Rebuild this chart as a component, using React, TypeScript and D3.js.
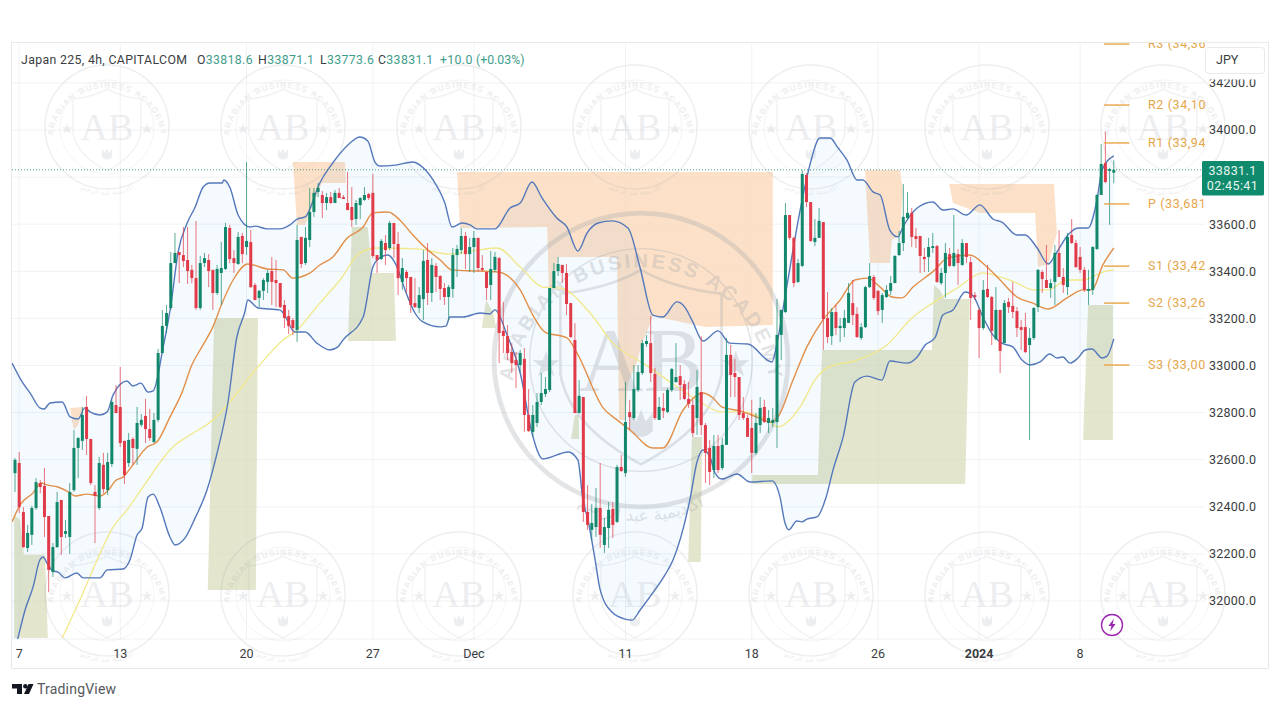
import React from "react";
import * as d3 from "d3";

const opens = [32543,32586,32378,32225,32281,32395,32501,32488,32361,32123,32229,32429,32285,32272,32471,32650,32680,32824,32688,32463,32395,32578,32471,32582,32832,32824,32680,32586,32688,32646,32748,32786,32730,32675,32769,33053,33168,33244,33435,33482,33469,33448,33406,33371,33244,33435,33448,33406,33308,33393,33410,33584,33456,33431,33550,33503,33524,33342,33287,33317,33355,33401,33363,33350,33257,33210,33193,33151,33546,33435,33533,33652,33737,33724,33690,33715,33690,33733,33715,33690,33673,33622,33681,33703,33728,33733,33469,33452,33520,33499,33605,33516,33355,33397,33376,33265,33244,33282,33448,33308,33423,33380,33329,33291,33325,33469,33490,33550,33473,33503,33542,33414,33397,33342,33406,33456,33147,33125,33057,33023,33002,33028,32790,32718,32756,32845,32879,32896,33329,33401,33427,33393,33265,33108,32798,32866,32378,32302,32314,32395,32238,32310,32391,32336,32569,32543,32802,32777,32896,32968,33091,33095,32964,32769,32820,32803,32896,32930,32955,32921,32858,32832,32777,32887,32747,32650,32556,32658,32565,32663,33045,32968,32951,32798,32777,32735,32629,32747,32824,32756,32756,32760,33130,33227,33639,33542,33355,33423,33809,33694,33524,33542,33609,33202,33125,33227,33159,33159,33181,33265,33219,33117,33163,33333,33376,33317,33236,33291,33317,33350,33469,33520,33626,33648,33550,33550,33461,33461,33499,33507,33350,33393,33473,33423,33473,33427,33520,33439,33299,33236,33159,33325,33291,33112,33236,33095,33270,33253,33231,33163,33163,33087,33117,33248,33397,33363,33329,33355,33478,33376,33333,33554,33520,33461,33406,33317,33321,33495,33724,33860,33826,33818.6];
const highs = [32607,32633,32399,32323,32404,32522,32514,32565,32361,32246,32463,32429,32344,32501,32726,32696,32824,32871,32688,32492,32612,32629,32629,32854,32917,32994,32680,32713,32696,32824,32794,32858,32815,32798,33070,33236,33257,33482,33563,33482,33588,33588,33427,33614,33465,33478,33473,33406,33427,33525,33605,33597,33490,33567,33563,33864,33575,33350,33321,33371,33406,33461,33448,33350,33278,33236,33202,33597,33546,33588,33754,33754,33775,33741,33733,33737,33745,33754,33724,33822,33758,33703,33715,33758,33733,33813,33469,33537,33554,33614,33605,33567,33456,33406,33376,33371,33333,33490,33520,33456,33435,33384,33350,33342,33499,33512,33584,33567,33542,33571,33542,33469,33397,33486,33482,33461,33270,33172,33095,33057,33066,33074,32900,32832,32883,32968,32951,33329,33435,33461,33427,33431,33265,33180,32938,32866,32492,32412,32480,32586,32353,32420,32420,32578,32620,32930,32854,33002,33002,33108,33129,33210,32990,32866,32883,32904,32990,33095,33002,32938,32930,32854,32981,33125,32756,32684,32705,32705,32692,33117,33087,33028,32951,32866,32790,32854,32798,32866,32854,32811,32820,33282,33236,33690,33639,33546,33452,33830,33817,33694,33622,33669,33609,33312,33244,33257,33202,33236,33350,33363,33248,33180,33338,33435,33384,33321,33308,33342,33380,33469,33571,33771,33737,33669,33584,33550,33499,33542,33563,33512,33414,33520,33499,33639,33495,33537,33520,33461,33312,33244,33363,33427,33295,33333,33236,33278,33287,33354,33248,33193,33223,33159,33248,33410,33406,33512,33367,33512,33575,33414,33563,33622,33533,33503,33418,33406,33507,33728,33941,33992,33839,33871.1];
const lows = [32463,32374,32225,32208,32238,32387,32458,32272,32038,32102,32225,32196,32268,32200,32463,32522,32641,32620,32492,32246,32387,32458,32450,32569,32798,32654,32497,32569,32578,32578,32739,32671,32680,32671,32760,33053,33138,33236,33435,33350,33418,33346,33350,33236,33236,33418,33333,33236,33299,33257,33406,33435,33393,33427,33435,33469,33329,33278,33248,33278,33308,33257,33248,33244,33159,33134,33129,33100,33414,33427,33503,33631,33715,33626,33660,33686,33690,33711,33707,33660,33588,33597,33622,33699,33703,33456,33393,33448,33427,33490,33456,33299,33321,33308,33223,33244,33223,33193,33257,33270,33312,33278,33257,33193,33287,33376,33473,33410,33397,33393,33401,33401,33278,33278,33397,33010,33053,33023,32968,32904,32972,32718,32718,32697,32739,32832,32866,32887,33329,33380,33350,33214,33117,32798,32798,32336,32302,32259,32272,32225,32204,32225,32268,32331,32548,32527,32726,32769,32887,32960,33079,32930,32769,32769,32777,32798,32887,32926,32854,32854,32820,32697,32705,32705,32501,32492,32522,32543,32556,32663,32866,32866,32769,32769,32697,32543,32620,32713,32756,32713,32739,32650,33023,33223,33533,33333,33350,33418,33673,33524,33507,33542,33066,33095,33087,33129,33100,33121,33181,33172,33117,33108,33159,33329,33278,33214,33181,33287,33299,33350,33465,33486,33618,33503,33499,33393,33397,33397,33478,33350,33342,33287,33418,33418,33342,33423,33435,33193,33278,33032,33151,33287,33087,33108,32968,33095,33223,33202,33121,33066,33053,32684,33108,33227,33308,33329,33287,33257,33376,33308,33299,33516,33414,33393,33312,33257,33299,33490,33724,33775,33597,33773.6];
const closes = [32599,32399,32229,32289,32395,32505,32484,32357,32132,32229,32420,32272,32297,32463,32650,32692,32790,32688,32501,32446,32586,32475,32590,32845,32798,32671,32535,32684,32650,32756,32769,32730,32692,32769,33053,33168,33223,33435,33478,33469,33444,33401,33371,33244,33435,33456,33401,33308,33410,33414,33588,33452,33435,33546,33473,33529,33333,33278,33317,33363,33393,33355,33350,33248,33202,33168,33159,33533,33431,33542,33652,33733,33754,33690,33715,33690,33733,33711,33707,33660,33618,33690,33711,33724,33711,33465,33448,33529,33490,33605,33516,33371,33414,33371,33257,33248,33299,33444,33308,33427,33376,33325,33291,33333,33469,33495,33550,33473,33503,33542,33414,33406,33329,33410,33461,33138,33125,33053,33010,33002,33053,32790,32722,32790,32845,32883,32900,33329,33401,33431,33393,33261,33121,32798,32871,32378,32323,32331,32395,32281,32314,32387,32323,32569,32552,32760,32781,32900,32972,33095,33104,32968,32777,32824,32807,32896,32985,32951,32917,32858,32837,32713,32909,32747,32629,32548,32658,32556,32663,33045,32960,32951,32790,32777,32697,32629,32756,32820,32760,32777,32769,33130,33236,33639,33542,33350,33435,33813,33694,33529,33542,33614,33197,33121,33227,33159,33168,33202,33308,33214,33121,33163,33333,33380,33287,33231,33299,33321,33350,33465,33520,33631,33648,33546,33537,33465,33452,33503,33507,33355,33393,33478,33423,33478,33435,33520,33461,33287,33291,33159,33321,33291,33147,33236,33062,33265,33248,33227,33159,33151,33057,33117,33244,33406,33367,33329,33350,33478,33376,33342,33546,33520,33418,33406,33321,33325,33503,33724,33856,33779,33834,33831.1];

const upperIdx = [-0.7,1.7,3.6,5.9,6.9,8.3,11.2,13.1,15,16.6,17.8,20.2,21.9,23.3,26.6,28,29.9,31.6,32.8,35.2,37.1,38.7,40.9,42.8,44.7,46.3,49.2,49.6,51.1,53,55.8,57,59.9,62.9,65.3,67,68.9,72.4,76,79.6,81.9,83.8,85.5,86.7,90.3,94.5,96.2,99.3,102.1,103.8,106.2,108.1,109.7,114,117.6,120,122.8,125.2,128.7,131.1,133.7,135.9,138.5,141.8,145.6,148.5,151.5,153.9,157.2,159.1,161,163.4,167,169.8,174.1,179.8,181,182.9,186.5,188.8,191.2,193.6,195.5,197.6,200,201.4,203.8,205.5,207.8,209.7,210.9,214.3,218,220.4,222.8,225.9,229.2,232.3,234.4,238,239.9,242.8,245.4,247.5,250.1,252.5,254.9,257,258.2,261];
const upperVal = [33010,32930,32883,32820,32815,32841,32845,32782,32773,32820,32803,32790,32803,32875,32934,32913,32925,32887,32892,33079,33265,33478,33605,33673,33758,33775,33775,33788,33754,33639,33588,33592,33580,33580,33597,33622,33631,33775,33873,33945,33970,33953,33864,33847,33851,33864,33851,33788,33690,33588,33605,33597,33580,33580,33669,33690,33779,33711,33626,33588,33486,33563,33605,33614,33584,33414,33214,33206,33270,33248,33185,33104,33147,33095,33091,33015,33095,33291,33660,33851,33966,33966,33924,33873,33788,33788,33737,33724,33575,33546,33588,33669,33694,33660,33665,33639,33682,33622,33609,33554,33554,33499,33431,33482,33554,33584,33584,33703,33830,33890];
const lowerIdx = [-0.7,0.7,2.4,4.3,5.9,6.7,7.6,9,10.2,11.9,14.7,16.2,20.2,21.9,25.7,27.3,29,30.2,31.6,32.8,34.4,36.8,38,40.4,42.8,45.6,48,50.6,52.7,54.6,55.3,57.7,62.9,63.7,66.5,68.9,71.7,74.8,76.7,77.9,82.7,85,86,88.6,90.3,93.1,95,96.9,101,102.4,103.3,106.4,110.5,112.8,114,116.9,120,122.8,125.4,131.4,133.7,134.9,136.1,137.8,139,141.8,144.9,146.6,148.5,152,154.4,156.3,160.3,162,163.4,165.1,166.3,167.9,171.5,174.6,179.8,181.7,182.9,183.8,185.7,186.9,188.1,190.5,192.6,194.3,196.7,199.5,202.4,205.9,207.8,211.9,214.3,216.2,218.5,220.4,222.8,225.7,227.6,229.9,232.3,234.4,237,239.2,241.1,243.5,245.8,247.5,248.9,250.6,252.5,254.2,255.8,258.2,259.4,261];
const lowerVal = [31740,31843,31962,32060,32174,32187,32161,32128,32123,32098,32119,32098,32098,32132,32136,32174,32280,32310,32442,32454,32399,32272,32238,32268,32353,32471,32628,32845,33121,33227,33278,33244,33236,33223,33142,33142,33095,33066,33079,33108,33206,33418,33448,33469,33435,33299,33223,33185,33164,33168,33206,33206,33223,33219,33236,33129,32968,32713,32603,32633,32599,32429,32344,32174,32047,31953,31923,31919,31962,32047,32111,32174,32429,32590,32641,32611,32543,32518,32539,32505,32510,32442,32331,32302,32340,32336,32348,32357,32437,32556,32696,32930,32955,32938,33019,33010,33036,33087,33117,33214,33236,33312,33295,33206,33129,33095,33079,33023,33002,33015,33049,33032,33036,33010,33032,33066,33070,33032,33040,33113];
const basisIdx = [-0.7,1.2,4.3,6.2,7.6,10.2,13.1,14.3,17.1,20.2,22.6,23.8,25.7,28,31.4,33.7,36.8,39.7,42,44.4,47,49.2,51.8,55.3,59.9,63.7,66,70.1,72.4,75.5,78.9,82.7,85,88.6,91.4,94.5,98.1,101,103.8,109.7,114.7,120,123,125.9,131.1,133.5,139.7,143,146.1,151.5,153.9,158.7,163.4,165.8,167.9,172.2,176.2,179.3,181.2,184.8,188.1,191.9,196,199.5,202.6,205.5,208.3,210.7,213.3,218.5,221.4,226.8,230.9,234,238,241.8,245.4,249.9,253.7,255.8,258.4,261];
const basisVal = [32336,32408,32459,32501,32493,32484,32459,32446,32454,32446,32480,32510,32527,32578,32654,32675,32781,32887,33002,33079,33164,33265,33363,33431,33410,33406,33371,33393,33427,33461,33541,33588,33648,33652,33618,33554,33490,33448,33406,33401,33397,33321,33214,33142,33117,33053,32820,32769,32726,32650,32650,32811,32883,32862,32824,32807,32781,32760,32781,32938,33079,33193,33278,33363,33371,33333,33291,33287,33333,33406,33456,33469,33418,33363,33291,33265,33240,33287,33321,33321,33427,33499];
const slowIdx = [11.2,15.4,19.5,23.3,26.6,30.4,37.5,41.6,47,50.4,57.5,63.7,67,72.4,77.2,81.9,86,95.5,103.3,109.7,114.5,120,125.4,129.5,136.6,142,149.2,155.6,162,167.9,172.9,179.3,181.2,186.5,190,192.9,200,207.1,213.3,218,223.8,229.9,234,238,241.8,245.4,249.9,253.7,258.4,261];
const slowVal = [31843,32004,32174,32314,32387,32484,32654,32705,32769,32832,32990,33108,33151,33265,33363,33478,33499,33495,33473,33490,33499,33418,33333,33329,33223,33095,33010,32930,32854,32803,32803,32760,32739,32824,32938,32990,33023,33087,33206,33265,33329,33393,33376,33350,33321,33321,33363,33363,33397,33406];

const supplyZones: [number, number][][] = [
  [[66,33864],[78.4,33864],[78.6,33775],[72.9,33775],[68.9,33597],[67,33597]],
  [[105,33822],[180,33822],[180,33172],[163.9,33164],[161.5,33172],[151.5,33210],[150.1,33142],[148.9,33095],[147.7,33010],[145.6,32926],[144.9,32769],[143.5,32769],[143.2,33138],[143,33461],[129,33461],[127.6,33329],[126.8,33329],[126.4,33588],[105.7,33584]],
  [[13.1,32820],[16.2,32824],[15,32747],[14,32726],[13.5,32769]],
  [[201.9,33830],[210.2,33830],[210.9,33745],[210.2,33554],[208.3,33533],[207.8,33435],[203.1,33435]],
  [[221.9,33771],[246.8,33771],[247.5,33563],[245.4,33431],[243,33418],[242.3,33648],[229.2,33648],[222.8,33690]],
];
const demandZones: [number, number][][] = [
  [[-0.2,32365],[1.2,32344],[2.1,32196],[7.1,32196],[7.8,31843],[-0.2,31843]],
  [[47.3,33202],[57.7,33202],[57.2,32047],[45.8,32047]],
  [[80,33588],[83.8,33588],[84.8,33393],[90,33393],[90.5,33104],[79.1,33104]],
  [[110.9,33159],[111.9,33278],[113.5,33227],[114.3,33159]],
  [[133,32790],[133.9,32790],[134,32688],[132.1,32688]],
  [[160.8,32696],[163.2,32696],[162.9,32166],[159.9,32166]],
  [[175.1,32535],[190.7,32535],[191.7,33066],[217.8,33066],[218.3,33342],[219.7,33321],[220.7,33282],[226.8,33282],[225.7,32497],[175.1,32497]],
  [[254.9,33257],[260.8,33257],[260.8,32684],[253.7,32684]],
];

const pivotNames = ["R3 (34,36","R2 (34,10","R1 (33,94","P (33,681","S1 (33,42","S2 (33,26","S3 (33,00"];
const pivotVals = [34365,34106,33945,33686,33422,33265,33002];
const yTicks = [34200,34000,33800,33600,33400,33200,33000,32800,32600,32400,32200,32000];
const xTickLabels = ["7","13","20","27","Dec","11","18","26","2024","8"];
const xTickIdx = [1,25,55,85,109,145,175,205,229,253];
const sealCentersX = [107,283,459,635,811,987,1163];
const sealCentersY = [127,594];

const UI = "Roboto, 'Liberation Sans', sans-serif";
const x = d3.scaleLinear().domain([0, 261]).range([15, 1113.8]);
const y = d3.scaleLinear().domain([32000, 34000]).range([601, 130]);
const UP = "#12876b";
const DOWN = "#e13a49";
const TEAL = "#3f9d8c";

const zonePath = d3.line<[number, number]>().x(d => x(d[0])).y(d => y(d[1])).curve(d3.curveLinearClosed);
const linePath = (idx: number[], val: number[]) =>
  d3.line<number>().x((_, i) => x(idx[i])).y(d => y(d)).curve(d3.curveMonotoneX)(val) ?? "";
const bandPath = () => {
  const a = upperIdx.map((v, i) => [v, upperVal[i]] as [number, number]);
  const b = lowerIdx.map((v, i) => [v, lowerVal[i]] as [number, number]).reverse();
  return zonePath([...a, ...b]) ?? "";
};
const starShape = d3.symbol().type(d3.symbolStar).size(40)() ?? "";

function Seal({ cx, cy, scale, id, strong }: { cx: number; cy: number; scale: number; id: string; strong?: boolean }) {
  const col = "#9aa0a8";
  return (
    <g transform={`translate(${cx},${cy}) scale(${scale})`} opacity={strong ? 0.28 : 0.17} fill="none" stroke={col}>
      <circle r={62} strokeWidth={strong ? 2 : 1.4} />
      <circle r={47} strokeWidth={0.6} />
      <path id={`${id}-t`} d="M -54 8 A 54.5 54.5 0 0 1 54 8" stroke="none" />
      <path id={`${id}-b`} d="M -58 10 A 58 58 0 0 0 58 10" stroke="none" />
      <text fontFamily="'Liberation Sans',sans-serif" fontWeight={700} fontSize={8.4} letterSpacing={1.25} fill={col} stroke="none">
        <textPath href={`#${id}-t`} startOffset="50%" textAnchor="middle">ARABIAN BUSINESS ACADEMY</textPath>
      </text>
      <text fontFamily="'DejaVu Sans',sans-serif" fontSize={7} fill={col} stroke="none">
        <textPath href={`#${id}-b`} startOffset="50%" textAnchor="middle">أكاديمية عبد الرحيم</textPath>
      </text>
      <path d="M -34 -28 Q -14 -30 0 -38 Q 14 -30 34 -28 L 34 6 Q 30 28 0 44 Q -30 28 -34 6 Z" strokeWidth={1.1} />
      <text textAnchor="middle" y={13} fontFamily="'Liberation Serif',serif" fontSize={38} fill={col} stroke="none">AB</text>
      <path d={starShape} transform="translate(-40,2)" fill={col} stroke="none" />
      <path d={starShape} transform="translate(40,2)" fill={col} stroke="none" />
      <path d="M -5 22 L -5 30 Q 0 35 5 30 L 5 22 L 2 26 L 0 21 L -2 26 Z" fill={col} stroke="none" />
    </g>
  );
}

export default function App() {
  return (
    <svg width={1280} height={720} style={{ position: "fixed", left: 0, top: 0, background: "#fff", display: "block" }}>
      <defs>
        <clipPath id="plot"><rect x={12} y={43} width={1193} height={596} /></clipPath>
      </defs>
      <rect x={11.5} y={42.5} width={1257} height={626} fill="#fff" stroke="#e9e9ea" />
      <g stroke="#f1f2f5" strokeWidth={1}>
        {yTicks.map(t => <line key={t} x1={12} x2={1205} y1={y(t)} y2={y(t)} />)}
        {xTickIdx.map(t => <line key={t} x1={x(t)} x2={x(t)} y1={43} y2={639} />)}
        <line x1={12} x2={1205} y1={639} y2={639} />
      </g>
      <g clipPath="url(#plot)">
        {supplyZones.map((z, i) => <path key={i} d={zonePath(z) ?? ""} fill="#fbd9b8" fillOpacity={0.78} />)}
        {demandZones.map((z, i) => <path key={i} d={zonePath(z) ?? ""} fill="#d6d9b4" fillOpacity={0.68} />)}
        <path d={bandPath()} fill="#2196f3" fillOpacity={0.05} />
      </g>
      {sealCentersY.flatMap(cy => sealCentersX.map(cx => (
        <Seal key={`${cx}-${cy}`} id={`s${cx}-${cy}`} cx={cx} cy={cy} scale={1} />
      )))}
      <Seal id="big" cx={641} cy={360} scale={2.37} strong />
      <g clipPath="url(#plot)">
        <path d={linePath(slowIdx, slowVal)} fill="none" stroke="#f2e88a" strokeWidth={1.3} />
        <path d={linePath(basisIdx, basisVal)} fill="none" stroke="#e2904a" strokeWidth={1.4} />
        <path d={linePath(upperIdx, upperVal)} fill="none" stroke="#5478bb" strokeWidth={1.4} />
        <path d={linePath(lowerIdx, lowerVal)} fill="none" stroke="#5478bb" strokeWidth={1.4} />
        {opens.map((o, i) => {
          const c = closes[i];
          const col = c >= o ? UP : DOWN;
          const top = y(Math.max(o, c));
          const h = Math.max(1, y(Math.min(o, c)) - top);
          return (
            <g key={i}>
              <line x1={x(i)} x2={x(i)} y1={y(highs[i])} y2={y(lows[i])} stroke={col} strokeWidth={1} strokeOpacity={0.7} />
              <rect x={x(i) - 1.5} y={top} width={3} height={h} fill={col} />
            </g>
          );
        })}
        <line x1={12} x2={1205} y1={y(33831.1)} y2={y(33831.1)} stroke={UP} strokeOpacity={0.75} strokeDasharray="1 2" />
        {pivotVals.map((v, i) => (
          <g key={i}>
            <line x1={x(258.7)} x2={x(264.7)} y1={y(v)} y2={y(v)} stroke="#e9a543" strokeWidth={1.4} />
            <text x={1148} y={y(v)} dy="0.35em" fontFamily={UI} fontSize={12.5} letterSpacing={0.6} fill="#e6a64a">{pivotNames[i]}</text>
          </g>
        ))}
      </g>
      <g fontFamily={UI} fontSize={12.5} fill="#3a3d42" letterSpacing={0.25}>
        {yTicks.map(t => <text key={t} x={1209} y={y(t)} dy="0.35em">{t.toFixed(1)}</text>)}
      </g>
      <g fontFamily={UI} fontSize={12.5} fill="#3a3d42" textAnchor="middle">
        {xTickIdx.map((t, i) => (
          <text key={t} x={x(t)} y={654} dy="0.35em" fontWeight={xTickLabels[i] === "2024" ? 700 : 400}>{xTickLabels[i]}</text>
        ))}
      </g>
      <g fontFamily={UI} fontSize={12.3} fill="#3a3d42" letterSpacing={0.35}>
        <text x={21} y={63.5}>Japan 225, 4h, CAPITALCOM</text>
        <text x={197} y={63.5}>O<tspan fill={TEAL}>33818.6</tspan></text>
        <text x={258} y={63.5}>H<tspan fill={TEAL}>33871.1</tspan></text>
        <text x={320} y={63.5}>L<tspan fill={TEAL}>33773.6</tspan></text>
        <text x={378} y={63.5}>C<tspan fill={TEAL}>33831.1</tspan></text>
        <text x={440} y={63.5} fill={TEAL}>+10.0</text>
        <text x={476} y={63.5} fill={TEAL} letterSpacing={0}>(+0.03%)</text>
      </g>
      <rect x={1205} y={74} width={60} height={5.5} fill="#fff" />
      <rect x={1205.5} y={47.5} width={59} height={26} rx={3} fill="#fff" stroke="#e9eaec" />
      <text x={1216} y={60} dy="0.35em" fontFamily={UI} fontSize={12.5} fill="#3a3d42">JPY</text>
      <rect x={1202} y={161} width={62} height={34.5} rx={1.5} fill="#0f8a6d" />
      <g fontFamily={UI} fontSize={12.5} fill="#e9f5f1" textAnchor="middle">
        <text x={1232.5} y={171} dy="0.35em" letterSpacing={0.4}>33831.1</text>
        <text x={1232.5} y={186} dy="0.35em" letterSpacing={0.4}>02:45:41</text>
      </g>
      <g transform="translate(1112,625)">
        <circle r={10.5} fill="#fff" stroke="#9c27b0" strokeWidth={1.4} />
        <path d="M1.8 -6.2 L-3.6 1 L-0.6 1 L-1.8 6.2 L3.6 -1 L0.6 -1 Z" fill="#9c27b0" />
      </g>
      <g fill="#131722">
        <path d="M12 684 H22 V694 H17 V688.5 H12 Z" />
        <circle cx={25.3} cy={686.2} r={2.2} />
        <path d="M28.5 684 H33.5 L29 694 H24 Z" />
      </g>
      <text x={37} y={689} dy="0.35em" fontFamily={UI} fontSize={14} letterSpacing={0.2} fill="#55585d">TradingView</text>
    </svg>
  );
}
